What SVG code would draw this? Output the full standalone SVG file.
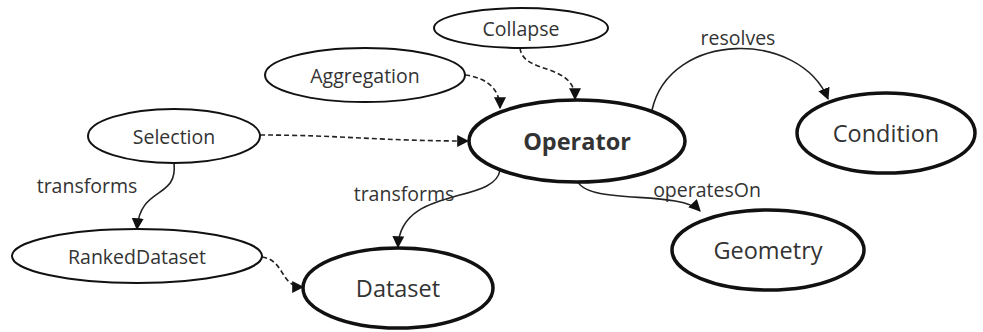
<svg xmlns="http://www.w3.org/2000/svg" width="983" height="332" viewBox="0 0 983 332">
<defs>
<style>
text{font-family:"Open Sans","Noto Sans",sans-serif;fill:#333;text-anchor:middle;dominant-baseline:central}
.n{fill:#fff;stroke:#111;stroke-width:2}
.m{fill:#fff;stroke:#111;stroke-width:3.5}
.e{fill:none;stroke:#222;stroke-width:1.6}
.d{stroke-dasharray:5,3}
.t{font-size:19.5px}
.l{font-size:19.5px}
.b{font-size:23.5px}
</style>
<marker id="ah" viewBox="0 0 10 10" refX="9" refY="5" markerWidth="12" markerHeight="12" markerUnits="userSpaceOnUse" orient="auto">
<path d="M0,0 L10,5 L0,10 z" fill="#111"/>
</marker>
</defs>
<rect width="983" height="332" fill="#fff"/>
<g id="edges">
<path class="e d" d="M520,48 C523,75 575,62 575,99" marker-end="url(#ah)"/>
<path class="e d" d="M465,75 C490,78 500,92 500,108" marker-end="url(#ah)"/>
<path class="e d" d="M260,135 C340,135 380,141 468,141" marker-end="url(#ah)"/>
<path class="e" d="M174,163 C178,200 140,185 137,229" marker-end="url(#ah)"/>
<path class="e" d="M500,170 C495,205 400,185 398,247" marker-end="url(#ah)"/>
<path class="e" d="M578,182 C590,205 680,190 700,211" marker-end="url(#ah)"/>
<path class="e" d="M652,110 C670,30 800,30 828,99" marker-end="url(#ah)"/>
<path class="e d" d="M262,257 C285,260 280,287 303,287" marker-end="url(#ah)"/>
<text class="l" x="87" y="185">transforms</text>
<text class="l" x="404" y="193">transforms</text>
<text class="l" x="707" y="189">operatesOn</text>
<text class="l" x="738" y="37">resolves</text>
</g>
<g id="collapse"><ellipse class="n" cx="521" cy="28" rx="87" ry="20"/><text class="t" x="521" y="28">Collapse</text></g>
<g id="aggregation"><ellipse class="n" cx="365" cy="75" rx="100" ry="27"/><text class="t" x="365" y="75">Aggregation</text></g>
<g id="selection"><ellipse class="n" cx="174" cy="136" rx="86" ry="27"/><text class="t" x="174" y="136">Selection</text></g>
<g id="rankeddataset"><ellipse class="n" cx="137" cy="256" rx="125" ry="27"/><text class="t" x="137" y="256">RankedDataset</text></g>
<g id="operator"><ellipse class="m" cx="577" cy="141" rx="108" ry="41"/><text class="b" x="577" y="141" font-weight="bold" font-size="22.5px">Operator</text></g>
<g id="condition"><ellipse class="m" cx="886" cy="133" rx="89" ry="40"/><text class="b" x="886" y="133">Condition</text></g>
<g id="geometry"><ellipse class="m" cx="768" cy="250" rx="96" ry="40"/><text class="b" x="768" y="250">Geometry</text></g>
<g id="dataset"><ellipse class="m" cx="398" cy="288" rx="95" ry="40"/><text class="b" x="398" y="288">Dataset</text></g>
</svg>
